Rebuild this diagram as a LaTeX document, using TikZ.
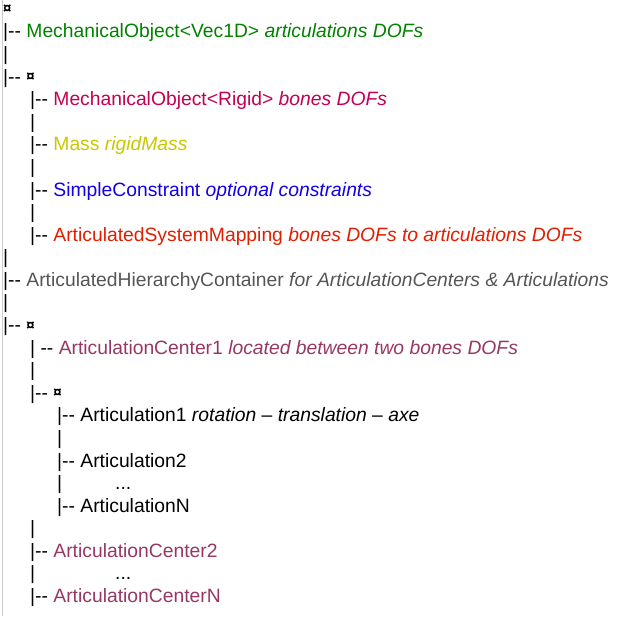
\documentclass[tikz,border=0pt]{standalone}
\usepackage{fontspec}
\setmainfont{Liberation Sans}
\usepackage{xcolor}
\usepackage{tikz}

\definecolor{vecgreen}{RGB}{0,130,0}
\definecolor{rigidred}{RGB}{196,0,82}
\definecolor{massyellow}{RGB}{200,200,0}
\definecolor{constblue}{RGB}{20,0,230}
\definecolor{mapred}{RGB}{225,30,0}
\definecolor{hiergray}{RGB}{85,85,85}
\definecolor{centermauve}{RGB}{150,55,100}

\newcommand{\tee}{|-{}-\ }
\newcommand{\cur}{\raisebox{1.5pt}{\fontsize{15}{15}\selectfont\bfseries ¤}}

\begin{document}
\begin{tikzpicture}[x=1pt, y=-1pt,
    treeline/.style={anchor=base west, inner sep=0pt, font=\fontsize{19.3}{19.3}\selectfont}]
        \useasboundingbox (0,0) rectangle (619,619);

        % Left margin rule
        \coordinate (top) at (2,0);
        \coordinate (bottom) at (2,616);
        \draw [gray!40, line width=1pt] (top) -- (bottom);

        % One node per printed line: indent / text
        \foreach[count=\i] \lvl/\linetext in {
            3/{\cur},
            3/{\tee\textcolor{vecgreen}{MechanicalObject<Vec1D> \textit{articulations DOFs}}},
            3/{|},
            3/{\tee\cur},
            30/{\tee\textcolor{rigidred}{MechanicalObject<Rigid> \textit{bones DOFs}}},
            30/{|},
            30/{\tee\textcolor{massyellow}{Mass \textit{rigidMass}}},
            30/{|},
            30/{\tee\textcolor{constblue}{SimpleConstraint \textit{optional constraints}}},
            30/{|},
            30/{\tee\textcolor{mapred}{ArticulatedSystemMapping \textit{bones DOFs to articulations DOFs}}},
            3/{|},
            3/{\tee\textcolor{hiergray}{ArticulatedHierarchyContainer \textit{for ArticulationCenters \& Articulations}}},
            3/{|},
            3/{\tee\cur},
            30/{| -{}- \textcolor{centermauve}{ArticulationCenter1 \textit{located between two bones DOFs}}},
            30/{|},
            30/{\tee\cur},
            57/{\tee Articulation1 \textit{rotation} -- \textit{translation} -- \textit{axe}},
            57/{|},
            57/{\tee Articulation2},
            57/{|\hspace{53pt}...},
            57/{\tee ArticulationN},
            30/{|},
            30/{\tee\textcolor{centermauve}{ArticulationCenter2}},
            30/{|\hspace{80pt}...},
            30/{\tee\textcolor{centermauve}{ArticulationCenterN}}}{
            \node[treeline] (line-\i) at (\lvl, {15.4 + (\i-1)*22.58}) {\linetext};
        }
    \end{tikzpicture}
\end{document}
